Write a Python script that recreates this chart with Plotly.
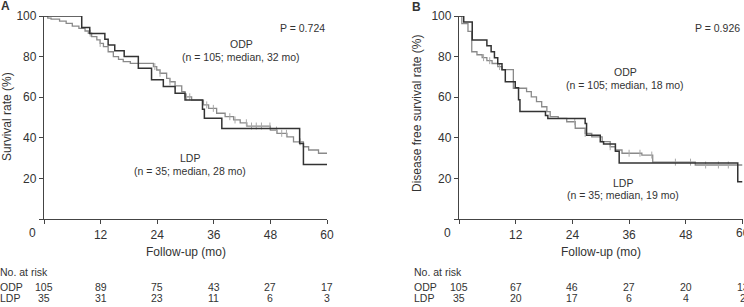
import plotly.graph_objects as go

# ---------------- data ----------------
# Panel A: overall survival
a_odp_t = [0, 0.8, 1.5, 3.3, 4.7, 6.0, 7.4, 8.7, 9.4, 10.1, 11.2, 11.9, 12.6, 13.6, 14.7, 15.8, 16.8, 18.3,
           23.2, 23.9, 24.6, 26.0, 26.7, 27.8, 29.2, 29.9, 31.3, 33.8, 34.9, 36.6, 38.4, 40.2, 41.6, 43.0,
           48.0, 49.4, 51.5, 52.9, 55.0, 56.1, 58.2, 60]
a_odp_s = [100, 99.0, 98.5, 97.5, 96.4, 95.0, 93.9, 92.6, 91.5, 89.8, 88.2, 86.5, 84.9, 82.4, 80.0, 78.6, 77.5, 76.7,
           75.1, 73.4, 71.8, 69.3, 67.6, 65.6, 62.7, 60.2, 58.6, 56.2, 54.5, 52.1, 50.4, 48.8, 47.4, 45.8,
           43.8, 42.2, 40.5, 38.0, 35.6, 34.0, 32.4, 32.4]
a_odp_cens = [9.8, 11.9, 23.5, 24.6, 26.7, 27.8, 30.2, 30.9, 34.5, 35.9, 39.4, 40.5, 42.9, 44.0, 45.0, 46.1,
              47.9, 49.3, 50.4, 51.4, 54.3]
a_ldp_t = [0, 8.0, 9.7, 12.9, 13.6, 15.0, 17.0, 20.0, 22.8, 25.3, 27.8, 29.9, 33.6, 34.0, 37.7, 54.2, 55.0, 60]
a_ldp_s = [100, 94.3, 91.4, 88.6, 85.7, 82.9, 80.0, 74.3, 68.6, 65.3, 61.9, 58.6, 54.1, 49.6, 44.6, 37.2, 26.8, 26.8]

# Panel B: disease free survival
b_odp_t = [0, 0.6, 1.9, 2.7, 3.8, 4.9, 5.9, 7.0, 8.2, 9.1, 11.5, 14.3, 15.3, 16.4, 17.5, 18.6, 19.3, 21.0, 22.8,
           24.6, 26.7, 28.1, 30.3, 32.0, 33.1, 34.5, 38.7, 41.0, 50.0, 60]
b_odp_s = [100, 96.2, 92.4, 82.4, 80.9, 79.5, 78.0, 76.6, 75.1, 73.6, 64.4, 62.7, 60.2, 57.8, 55.3, 52.9, 50.4, 49.6,
           47.9, 44.7, 42.2, 40.5, 38.1, 35.6, 34.0, 32.4, 31.5, 28.0, 26.6, 26.6]
b_odp_cens = [5.2, 6.5, 8.6, 24.5, 26.7, 32.0, 36.0, 38.3, 40.8, 45.8, 49.0, 52.2, 54.9, 57.0]
b_ldp_t = [0, 1.0, 2.8, 5.9, 6.8, 7.5, 8.2, 9.1, 9.8, 11.9, 12.6, 12.9, 18.3, 18.8, 26.7, 27.0, 29.9, 30.6,
           33.1, 33.9, 59.0, 60]
b_ldp_s = [100, 97.1, 88.2, 85.3, 82.4, 79.4, 76.5, 73.5, 67.6, 64.7, 58.8, 52.9, 51.0, 49.5, 47.1, 41.2, 38.1, 37.0,
           33.4, 27.6, 18.4, 18.4]

tick_months = [0, 12, 24, 36, 48, 60]
y_ticks = [0, 20, 40, 60, 80, 100]
a_risk_odp = [105, 89, 75, 43, 27, 17]
a_risk_ldp = [35, 31, 23, 11, 6, 3]
b_risk_odp = [105, 67, 46, 27, 20, 13]
b_risk_ldp = [35, 20, 17, 6, 4, 2]

DARK = "#333333"
GRAY = "#8a8a8a"
CENS = "#a8a8a8"
TXT = "#333333"
FONT = "Liberation Sans, Arial, sans-serif"


def step_value(ts, ss, t):
    v = ss[0]
    for ti, si in zip(ts, ss):
        if ti <= t:
            v = si
    return v


fig = go.Figure()


def add_panel(xa, ya, odp_t, odp_s, cens, ldp_t, ldp_s):
    fig.add_trace(go.Scatter(x=odp_t, y=odp_s, mode="lines", line=dict(color=GRAY, width=1.3, shape="hv"),
                             xaxis=xa, yaxis=ya, showlegend=False, cliponaxis=False))
    fig.add_trace(go.Scatter(x=cens, y=[step_value(odp_t, odp_s, c) for c in cens], mode="markers",
                             marker=dict(symbol="line-ns-open", size=5, color=CENS,
                                         line=dict(color=CENS, width=1)),
                             xaxis=xa, yaxis=ya, showlegend=False, cliponaxis=False))
    fig.add_trace(go.Scatter(x=ldp_t, y=ldp_s, mode="lines", line=dict(color=DARK, width=1.5, shape="hv"),
                             xaxis=xa, yaxis=ya, showlegend=False, cliponaxis=False))


add_panel("x", "y", a_odp_t, a_odp_s, a_odp_cens, a_ldp_t, a_ldp_s)
add_panel("x2", "y2", b_odp_t, b_odp_s, b_odp_cens, b_ldp_t, b_ldp_s)

W, H = 744, 307
ydom = [(H - 219) / H, (H - 16) / H]
axis_common = dict(showgrid=False, zeroline=False, showline=True, linecolor="#444", linewidth=1.3,
                   ticks="outside", ticklen=4, tickwidth=1.2, tickcolor="#444", automargin=False,
                   tickfont=dict(family=FONT, size=12, color=TXT), fixedrange=True)

xticktext = [""] + [str(m) for m in tick_months[1:]]
yticktext = [""] + [str(v) for v in y_ticks[1:]]

fig.update_layout(
    width=W, height=H, margin=dict(l=0, r=0, t=0, b=0, pad=0),
    paper_bgcolor="white", plot_bgcolor="white",
    xaxis=dict(domain=[44 / W, 327 / W], range=[0, 60], tickvals=tick_months, ticktext=xticktext,
               anchor="y", **axis_common),
    yaxis=dict(domain=ydom, range=[0, 100], tickvals=y_ticks, ticktext=yticktext, anchor="x", **axis_common),
    xaxis2=dict(domain=[459 / W, 742.5 / W], range=[0, 60], tickvals=tick_months, ticktext=xticktext,
                anchor="y2", **axis_common),
    yaxis2=dict(domain=ydom, range=[0, 100], tickvals=y_ticks, ticktext=yticktext, anchor="x2", **axis_common),
)

ann = []


def px(xp):
    return xp / W


def py(yp):
    return (H - yp) / H


def text(x, y, s, size=10.5, xanchor="center", xref="paper", angle=0, bold=False):
    ann.append(dict(x=x, y=y, xref=xref, yref="paper", text=("<b>%s</b>" % s) if bold else s,
                    showarrow=False, xanchor=xanchor, yanchor="middle", textangle=angle,
                    font=dict(family=FONT, size=size, color=TXT)))


# Panel A texts
text(px(5), py(6), "A", size=12, bold=True)
text(px(7), py(117), "Survival rate (%)", size=12, angle=-90)
text(px(32), py(233), "0", size=12)
text(px(185.5), py(252), "Follow-up (mo)", size=12)
text(px(327), py(28), "P = 0.724", xanchor="right")
text(px(241), py(44), "ODP")
text(px(241), py(57), "(n = 105; median, 32 mo)")
text(px(190), py(158), "LDP")
text(px(190), py(171), "(n = 35; median, 28 mo)")
text(px(-2), py(272), "No. at risk", xanchor="left")
text(px(-2.5), py(287), "ODP", xanchor="left")
text(px(-2.5), py(298), "LDP", xanchor="left")
for m, o, l in zip(tick_months, a_risk_odp, a_risk_ldp):
    text(m, py(287), str(o), xref="x")
    text(m, py(298), str(l), xref="x")

# Panel B texts
text(px(417), py(7), "B", size=12, bold=True)
text(px(417), py(113), "Disease free survival rate (%)", size=12, angle=-90)
text(px(447), py(233), "0", size=12)
# last tick label of panel B runs past the page edge (as in the original)
text(tick_months[-1], py(233), str(tick_months[-1]), size=12, xref="x2")
text(px(600.5), py(252), "Follow-up (mo)", size=12)
text(px(742), py(28), "P = 0.926", xanchor="right")
text(px(625), py(72), "ODP")
text(px(625), py(85), "(n = 105; median, 18 mo)")
text(px(623), py(183), "LDP")
text(px(623), py(195), "(n = 35; median, 19 mo)")
text(px(412), py(272), "No. at risk", xanchor="left")
text(px(412), py(287), "ODP", xanchor="left")
text(px(412), py(298), "LDP", xanchor="left")
for m, o, l in zip(tick_months, b_risk_odp, b_risk_ldp):
    text(m, py(287), str(o), xref="x2")
    text(m, py(298), str(l), xref="x2")

fig.update_layout(annotations=ann)
fig.write_html("out.html")
